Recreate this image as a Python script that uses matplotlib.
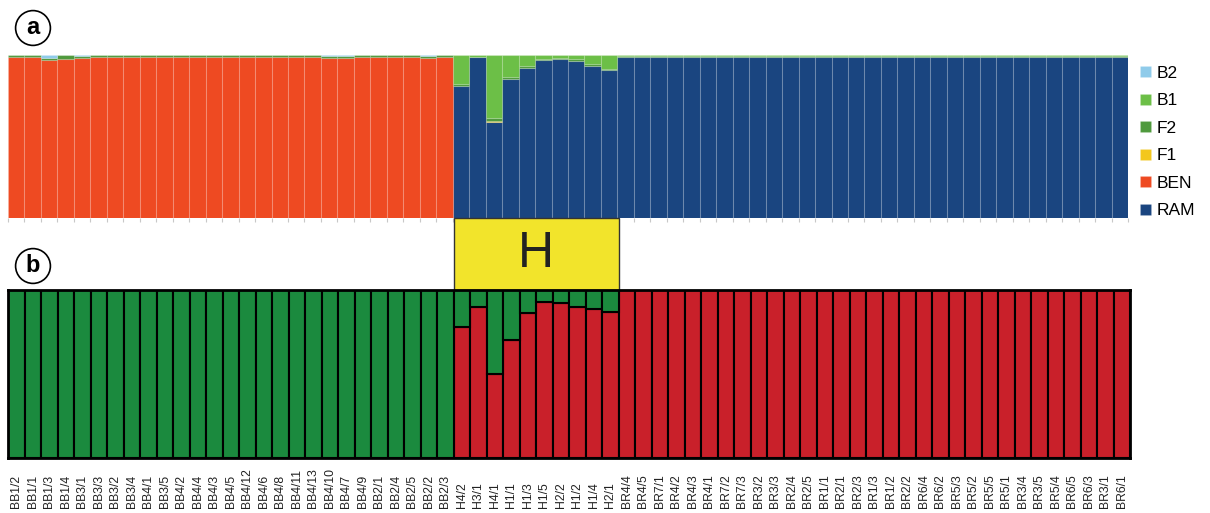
import matplotlib
matplotlib.use('Agg')
import matplotlib.pyplot as plt
import numpy as np
from matplotlib.patches import Rectangle
from matplotlib.transforms import blended_transform_factory

plt.rcParams['font.family'] = ['Liberation Sans', 'DejaVu Sans']

samples = ['BB1/2', 'BB1/1', 'BB1/3', 'BB1/4', 'BB3/1', 'BB3/3', 'BB3/2', 'BB3/4', 'BB4/1',
           'BB3/5', 'BB4/2', 'BB4/4', 'BB4/3', 'BB4/5', 'BB4/12', 'BB4/6', 'BB4/8', 'BB4/11',
           'BB4/13', 'BB4/10', 'BB4/7', 'BB4/9', 'BB2/1', 'BB2/4', 'BB2/5', 'BB2/2', 'BB2/3',
           'H4/2', 'H3/1', 'H4/1', 'H1/1', 'H1/3', 'H1/5', 'H2/2', 'H1/2', 'H1/4', 'H2/1',
           'BR4/4', 'BR4/5', 'BR7/1', 'BR4/2', 'BR4/3', 'BR4/1', 'BR7/2', 'BR7/3', 'BR3/2',
           'BR3/3', 'BR2/4', 'BR2/5', 'BR1/1', 'BR2/1', 'BR2/3', 'BR1/3', 'BR1/2', 'BR2/2',
           'BR6/4', 'BR6/2', 'BR5/3', 'BR5/2', 'BR5/5', 'BR5/1', 'BR3/4', 'BR3/5', 'BR5/4',
           'BR6/5', 'BR6/3', 'BR3/1', 'BR6/1']

# panel a: class membership, 27 BB, 10 H, 31 BR
ram = [0.0] * 27 + [0.81, 0.985, 0.59, 0.855, 0.92, 0.97, 0.975, 0.965, 0.935, 0.905] + [0.988] * 31
ben = [0.985, 0.985, 0.968, 0.975, 0.981, 0.985, 0.985, 0.985, 0.985, 0.985, 0.985, 0.985,
       0.985, 0.985, 0.985, 0.985, 0.985, 0.985, 0.985, 0.981, 0.981, 0.985, 0.985, 0.985,
       0.985, 0.981, 0.985] + [0.0] * 10 + [0.0] * 31
f1 = [0.0] * 27 + [0.0, 0.0, 0.006, 0.0, 0.0, 0.0, 0.0, 0.0, 0.0, 0.0] + [0.0] * 31
f2 = [0.013, 0.013, 0.015, 0.022, 0.013, 0.013, 0.013, 0.013, 0.013, 0.013, 0.013, 0.013,
      0.013, 0.013, 0.013, 0.013, 0.013, 0.013, 0.013, 0.013, 0.013, 0.013, 0.013, 0.013,
      0.013, 0.013, 0.013] + [0.012, 0.005, 0.02, 0.012, 0.01, 0.008, 0.008, 0.008, 0.01, 0.012] + [0.007] * 31
b1 = [0.0] * 27 + [0.178, 0.01, 0.384, 0.133, 0.07, 0.022, 0.017, 0.027, 0.055, 0.083] + [0.005] * 31
b2 = [0.002, 0.002, 0.017, 0.003, 0.006, 0.002, 0.002, 0.002, 0.002, 0.002, 0.002, 0.002,
      0.002, 0.002, 0.002, 0.002, 0.002, 0.002, 0.002, 0.006, 0.006, 0.002, 0.002, 0.002,
      0.002, 0.006, 0.002] + [0.0] * 10 + [0.0] * 31

# panel b: K=2, fraction of the red cluster
red_q = [0.0] * 27 + [0.78, 0.897, 0.5, 0.70, 0.861, 0.93, 0.92, 0.90, 0.887, 0.867] + [1.0] * 31

classes = ['RAM', 'BEN', 'F1', 'F2', 'B1', 'B2']
class_vals = [ram, ben, f1, f2, b1, b2]
class_cols = ['#1a4580', '#ee4a22', '#f3c71d', '#4f9a3d', '#6cbf47', '#8fcbea']

n = len(samples)
x = np.arange(n)

fig = plt.figure(figsize=(12.1, 5.13), dpi=100)
W, H = 1210, 513
ax_a = fig.add_axes([8 / W, 1 - 218 / H, 1120 / W, 163 / H])
ax_b = fig.add_axes([8 / W, 1 - 458 / H, 1122 / W, 168 / H])

bottom = np.zeros(n)
for name, vals, col in zip(classes, class_vals, class_cols):
    vals = np.array(vals)
    ax_a.bar(x, vals, bottom=bottom, width=1.0, color=col, label=name,
             edgecolor=(1, 1, 1, 0.12), linewidth=0.8)
    bottom += vals
ax_a.set_xlim(-0.5, n - 0.5)
ax_a.set_ylim(0, 1)
for s in ax_a.spines.values():
    s.set_visible(False)
ax_a.set_yticks([])
ax_a.set_xticks(np.arange(n + 1) - 0.5)
ax_a.set_xticklabels([])
ax_a.tick_params(axis='x', length=3, color='#c8c8c8', width=0.8)

h, l = ax_a.get_legend_handles_labels()
ax_a.legend(h[::-1], l[::-1], loc='center left', bbox_to_anchor=(1.011, 0.465),
            frameon=False, fontsize=12.5, handlelength=0.6, handleheight=0.6,
            handletextpad=0.35, labelspacing=0.72, borderaxespad=0, borderpad=0)

red_q = np.array(red_q)
ax_b.bar(x, red_q, width=1.0, color='#c9202a', edgecolor='black', linewidth=1.5)
ax_b.bar(x, 1 - red_q, bottom=red_q, width=1.0, color='#1b8a3e', edgecolor='black', linewidth=1.5)
ax_b.set_xlim(-0.5, n - 0.5)
ax_b.set_ylim(0, 1)
ax_b.set_yticks([])
ax_b.set_xticks(x)
ax_b.set_xticklabels([])
ax_b.tick_params(axis='x', length=0)
for s in ax_b.spines.values():
    s.set_linewidth(2)

tr = blended_transform_factory(ax_b.transData, ax_b.transAxes)
for xi, name in zip(x, samples):
    ax_b.text(xi, -(508 - 458) / 168, name, transform=tr, rotation=90,
              ha='center', va='bottom', fontsize=8.8, color='#222222')

# H box between panels
ax_b.add_patch(Rectangle((26.5, 1.0), 10, 72 / 168, transform=tr, clip_on=False,
                         facecolor='#f2e42b', edgecolor='#333333', linewidth=1.0, zorder=0))
ax_b.text(31.5, 1.0 + 36 / 168, 'H', transform=tr, ha='center', va='center',
          fontsize=36, color='#222222')

for lab, yy in [('a', 1 - 28 / H), ('b', 1 - 266 / H)]:
    fig.text(33 / W, yy, lab, ha='center', va='center', fontsize=17, fontweight='bold',
             bbox=dict(boxstyle='circle,pad=0.25', fc='white', ec='black', lw=1.2))

fig.savefig('out.png', dpi=100)
